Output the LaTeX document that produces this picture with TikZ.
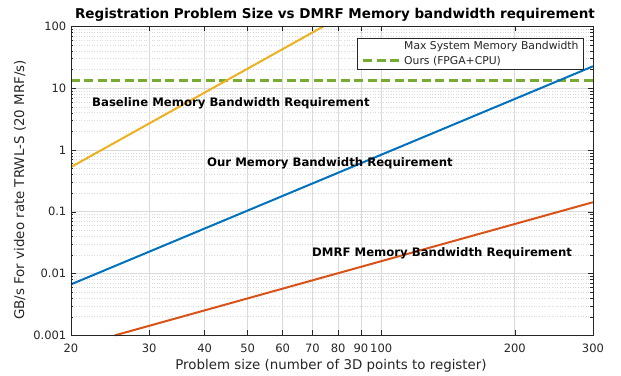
\documentclass[tikz,border=0pt]{standalone}
\usepackage{fontspec}
\setmainfont{DejaVu Sans}
\usetikzlibrary{positioning}
\definecolor{mlblue}{HTML}{0072BD}
\definecolor{mlorange}{HTML}{D95319}
\definecolor{mlyellow}{HTML}{EDB120}
\definecolor{mlgreen}{HTML}{77AC30}
\definecolor{axisgray}{HTML}{262626}
\definecolor{gridgray}{HTML}{DADADA}

\begin{document}
\begin{tikzpicture}[x=1pt, y=1pt,
    gridmajor/.style={draw=gridgray, line width=0.6pt},
    gridminor/.style={draw=gridgray, line width=0.6pt, dash pattern=on 1pt off 1.6pt},
    curve/.style={line width=2pt, draw=#1},
    bwline/.style={draw=mlgreen, line width=3pt, dash pattern=on 9pt off 4.5pt},
    tickmark/.style={draw=axisgray, line width=0.5pt},
    ticklabel/.style={font=\fontsize{11.5}{13}\selectfont, text=axisgray, inner sep=0pt},
    note/.style={font=\fontsize{11.7}{13}\selectfont\bfseries, anchor=west, inner sep=0pt},
    axlabel/.style={font=\fontsize{13.4}{15}\selectfont, text=axisgray, inner sep=0pt},
    legtext/.style={font=\fontsize{10.8}{12}\selectfont, text=axisgray, anchor=west, inner sep=0pt}
]
\useasboundingbox (0,0) rectangle (621,375);

% plot area: x and y in decades
\begin{scope}[shift={(-506.4pt,225pt)}, x=443.8pt, y=61.8pt]
  \coordinate (ll) at ({log10(20)},-3);
  \coordinate (ur) at ({log10(300)},2);

  % grid
  \foreach \d in {-3,...,1}
    \foreach \k in {2,...,9}
      \draw[gridminor] ({log10(20)},{\d+log10(\k)}) -- ({log10(300)},{\d+log10(\k)});
  \foreach \d in {-2,...,1}
    \draw[gridmajor] ({log10(20)},\d) -- ({log10(300)},\d);
  \foreach \v in {30,40,50,60,70,80,90,100,200}
    \draw[gridmajor] ({log10(\v)},-3) -- ({log10(\v)},2);

  % max system bandwidth
  \coordinate (bw-a) at ({log10(20)},{log10(13.1)});
  \coordinate (bw-b) at ({log10(300)},{log10(13.1)});
  \draw[bwline] (bw-a) -- (bw-b);

  % requirements
  \coordinate (base-a) at ({log10(20)},-0.2757);
  \coordinate (base-b) at ({log10(20)+0.5689},2);
  \coordinate (ours-a) at ({log10(20)},-2.174);
  \coordinate (ours-b) at ({log10(300)},{-2.174+3*1.17609});
  \coordinate (dmrf-a) at ({log10(25.1)},-3);
  \coordinate (dmrf-b) at ({log10(300)},{-3+2*(log10(300)-log10(25.1))});
  \draw[curve=mlyellow] (base-a) -- (base-b);
  \draw[curve=mlblue]   (ours-a) -- (ours-b);
  \draw[curve=mlorange] (dmrf-a) -- (dmrf-b);

  % axes box and ticks
  \draw[tickmark] (ll) rectangle (ur);
  \foreach \d in {-3,...,1}
    \foreach \k in {2,...,9} {
      \draw[tickmark] ({log10(20)},{\d+log10(\k)}) -- ++(2.5pt,0);
      \draw[tickmark] ({log10(300)},{\d+log10(\k)}) -- ++(-2.5pt,0);
    }
  \foreach \d/\lab in {-3/0.001,-2/0.01,-1/0.1,0/1,1/10,2/100} {
    \draw[tickmark] ({log10(20)},\d) -- ++(5pt,0);
    \draw[tickmark] ({log10(300)},\d) -- ++(-5pt,0);
    \node[ticklabel, anchor=east, xshift=-4.5pt] (yt\d) at ({log10(20)},\d) {\lab};
  }
  \foreach \v in {20,30,40,50,60,70,80,90,100,200,300} {
    \draw[tickmark] ({log10(\v)},-3) -- ++(0,5pt);
    \draw[tickmark] ({log10(\v)},2) -- ++(0,-5pt);
    \node[ticklabel, anchor=north, yshift=-8.5pt] (xt\v) at ({log10(\v)},-3) {\v};
  }
\end{scope}

\node[note] (note-base) at (92,272) {Baseline Memory Bandwidth Requirement};
\node[note] (note-ours) at (207,212) {Our Memory Bandwidth Requirement};
\node[note] (note-dmrf) at (312,122) {DMRF Memory Bandwidth Requirement};

% legend
\draw[fill=white, draw=axisgray, line width=0.5pt] (357,337) rectangle (583,306);
\node[legtext] (leg-max) at (404,328) {Max System Memory Bandwidth};
\node[legtext] (leg-ours) at (404,314) {Ours (FPGA+CPU)};
\coordinate (leg-a) at (363,314);
\draw[bwline] (leg-a) -- ([xshift=-1pt]leg-ours.west);

\node[font=\fontsize{13.5}{15}\selectfont\bfseries, inner sep=0pt] (title) at (335,360)
  {Registration Problem Size vs DMRF Memory bandwidth requirement};
\node[axlabel] (xlab) at (331,9) {Problem size (number of 3D points to register)};
\node[axlabel, rotate=90] (ylab) at (20,185) {GB/s For video rate TRWL-S (20 MRF/s)};
\end{tikzpicture}
\end{document}
